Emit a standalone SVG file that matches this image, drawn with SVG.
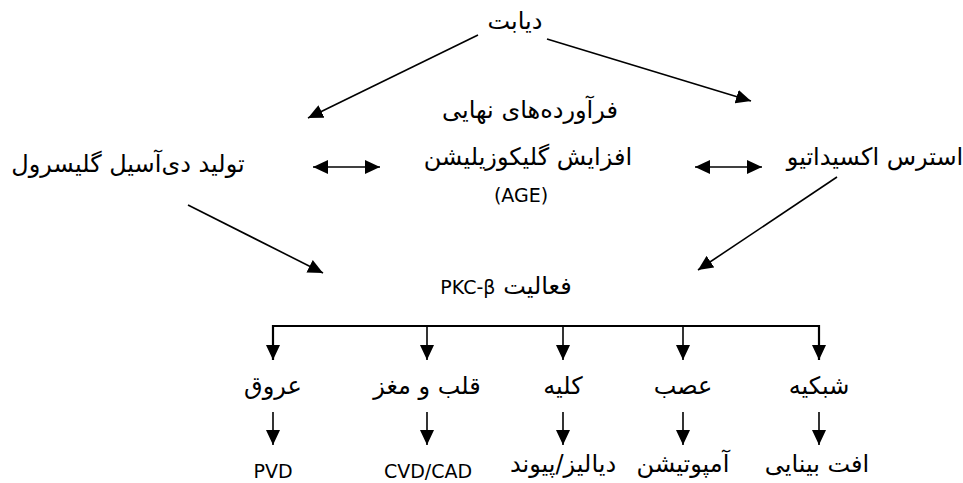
<svg xmlns="http://www.w3.org/2000/svg" width="963" height="483" viewBox="0 0 963 483">
<style>
text{font-family:"DejaVu Sans","Noto Sans",sans-serif;font-size:19px;fill:#000;text-anchor:middle}
.fa{direction:rtl;font-size:24px}
.lat{font-size:19px}
.ln{stroke:#000;stroke-width:1.6;fill:none}
.bus{stroke:#000;stroke-width:2.2;fill:none}
</style>
<defs>
<marker id="ah" markerUnits="userSpaceOnUse" markerWidth="16" markerHeight="14" refX="15" refY="7" orient="auto-start-reverse">
<path d="M0,0 L15,7 L0,14 z" fill="#000"/>
</marker>
</defs>
<rect width="963" height="483" fill="#fff"/>
<g id="connectors">
<line class="ln" x1="478" y1="35" x2="308" y2="118" marker-end="url(#ah)"/>
<line class="ln" x1="547" y1="39" x2="751" y2="101" marker-end="url(#ah)"/>
<line class="ln" x1="313" y1="167" x2="380" y2="167" marker-start="url(#ah)" marker-end="url(#ah)"/>
<line class="ln" x1="695" y1="167" x2="762" y2="167" marker-start="url(#ah)" marker-end="url(#ah)"/>
<line class="ln" x1="188" y1="205" x2="323" y2="273" marker-end="url(#ah)"/>
<line class="ln" x1="837" y1="177" x2="698" y2="270" marker-end="url(#ah)"/>
<polyline class="bus" points="273,360 273,326 819,326 819,360"/>
<line class="ln" x1="273" y1="330" x2="273" y2="360" marker-end="url(#ah)"/>
<line class="ln" x1="427" y1="326" x2="427" y2="360" marker-end="url(#ah)"/>
<line class="ln" x1="563" y1="326" x2="563" y2="360" marker-end="url(#ah)"/>
<line class="ln" x1="683" y1="326" x2="683" y2="360" marker-end="url(#ah)"/>
<line class="ln" x1="819" y1="330" x2="819" y2="360" marker-end="url(#ah)"/>
<line class="ln" x1="273" y1="412" x2="273" y2="445" marker-end="url(#ah)"/>
<line class="ln" x1="427" y1="412" x2="427" y2="445" marker-end="url(#ah)"/>
<line class="ln" x1="563" y1="412" x2="563" y2="445" marker-end="url(#ah)"/>
<line class="ln" x1="683" y1="412" x2="683" y2="445" marker-end="url(#ah)"/>
<line class="ln" x1="819" y1="412" x2="819" y2="445" marker-end="url(#ah)"/>
</g>
<g id="n-diabetes"><text class="fa" x="515" y="29">دیابت</text></g>
<g id="n-age"><text class="fa" x="530" y="118">فرآورده‌های نهایی</text><text class="fa" x="528" y="165">افزایش گلیکوزیلیشن</text><text x="521" y="202">(AGE)</text></g>
<g id="n-dag"><text class="fa" x="128" y="172">تولید دی‌آسیل گلیسرول</text></g>
<g id="n-ox"><text class="fa" x="875" y="165">استرس اکسیداتیو</text></g>
<g id="n-pkc"><text class="fa" x="506" y="294">فعالیت <tspan class="lat">PKC-β</tspan></text></g>
<g id="n-vessels"><text class="fa" x="273" y="394">عروق</text></g>
<g id="n-heart"><text class="fa" x="427" y="394">قلب و مغز</text></g>
<g id="n-kidney"><text class="fa" x="563" y="394">کلیه</text></g>
<g id="n-nerve"><text class="fa" x="683" y="394">عصب</text></g>
<g id="n-retina"><text class="fa" x="819" y="394">شبکیه</text></g>
<g id="n-pvd"><text x="273" y="478">PVD</text></g>
<g id="n-cvd"><text x="428" y="478">CVD/CAD</text></g>
<g id="n-dialysis"><text class="fa" x="563" y="472">دیالیز/پیوند</text></g>
<g id="n-amp"><text class="fa" x="683" y="472">آمپوتیشن</text></g>
<g id="n-vision"><text class="fa" x="817" y="472">افت بینایی</text></g>
</svg>
